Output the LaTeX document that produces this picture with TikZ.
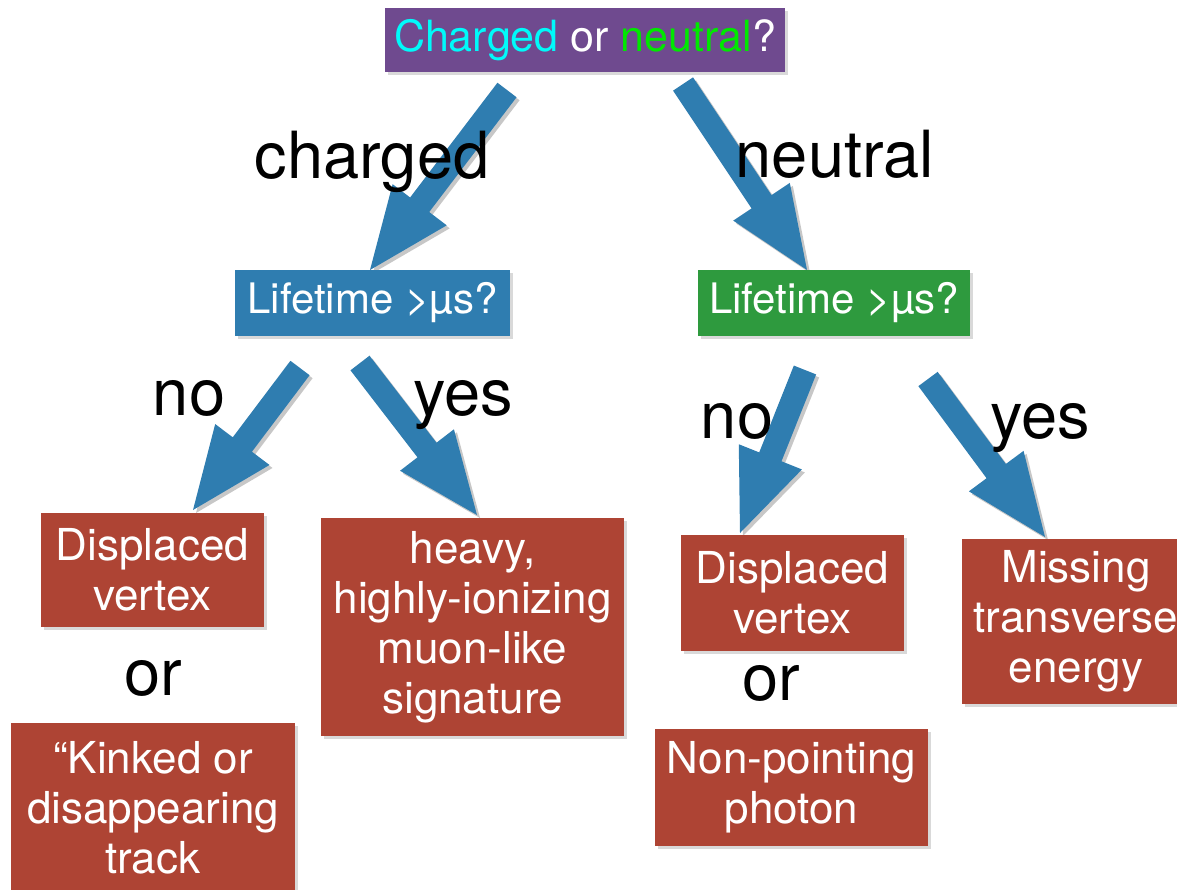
\documentclass[tikz,border=0pt]{standalone}
\usepackage{fontspec}
\setmainfont{TeX Gyre Heros}
\usetikzlibrary{calc,shadows}

\definecolor{qpurple}{RGB}{111,74,143}
\definecolor{qblue}{RGB}{47,125,176}
\definecolor{qgreen}{RGB}{46,154,62}
\definecolor{qred}{RGB}{174,68,52}
\definecolor{chargedcyan}{RGB}{0,250,250}
\definecolor{neutralgreen}{RGB}{0,232,0}

% block arrow from tail #1 to tip #2 (shaft 24pt, head 68pt wide, 82pt long)
\newcommand\blockarrowpath[2]{%
  ($(#1)!12pt!90:(#2)$) -- ($($(#2)!82pt!(#1)$)!12pt!-90:(#1)$)
  -- ($($(#2)!82pt!(#1)$)!34pt!-90:(#1)$) -- (#2)
  -- ($($(#2)!82pt!(#1)$)!34pt!90:(#1)$)
  -- ($($(#2)!82pt!(#1)$)!12pt!90:(#1)$) -- ($(#1)!12pt!-90:(#2)$) -- cycle}

\newcommand\blockarrow[2]{%
  \fill[arrowshadow] \blockarrowpath{#1}{#2};
  \fill[qblue] \blockarrowpath{#1}{#2};}

\begin{document}
\begin{tikzpicture}[x=1pt,y=-1pt,
  arrowshadow/.style={black,opacity=0.22,transform canvas={shift={(3pt,-3pt)}}},
  qbox/.style={rectangle,inner sep=0pt,align=center,text=white,
    font=\fontsize{44}{50}\selectfont,
    drop shadow={shadow xshift=3pt,shadow yshift=-3pt,opacity=0.3}},
  branch/.style={text=black,font=\fontsize{65}{65}\selectfont,anchor=base,inner sep=0pt}]

\useasboundingbox (0,0) rectangle (1177,889);
\clip (0,0) rectangle (1177,889);

% arrow end points
\coordinate (cT) at (507,90);   \coordinate (cP) at (370,270);
\coordinate (nT) at (683,84);   \coordinate (nP) at (807,270);
\coordinate (lnT) at (300,368); \coordinate (lnP) at (193,510);
\coordinate (lyT) at (360,363); \coordinate (lyP) at (477,515);
\coordinate (rnT) at (805,370); \coordinate (rnP) at (740,533);
\coordinate (ryT) at (928,379); \coordinate (ryP) at (1045,537);

% arrows
\blockarrow{cT}{cP}
\blockarrow{nT}{nP}
\blockarrow{lnT}{lnP}
\blockarrow{lyT}{lyP}
\blockarrow{rnT}{rnP}
\blockarrow{ryT}{ryP}

% question boxes
\node[qbox,fill=qpurple,minimum width=400pt,minimum height=64pt,
  font=\fontsize{43}{48}\selectfont] (top) at (585,40)
  {{\color{chargedcyan}Charged} or {\color{neutralgreen}neutral}?};
\node[qbox,fill=qblue,minimum width=275pt,minimum height=66pt,
  font=\fontsize{42}{48}\selectfont] (lifeC) at (372.5,303)
  {Lifetime >µs?};
\node[qbox,fill=qgreen,minimum width=272pt,minimum height=66pt,
  font=\fontsize{42}{48}\selectfont] (lifeN) at (834,303)
  {Lifetime >µs?};

% signature boxes
\node[qbox,fill=qred,minimum width=223pt,minimum height=114pt] (dvC) at (152.5,570)
  {Displaced\\vertex};
\node[qbox,fill=qred,minimum width=303pt,minimum height=218pt] (heavy) at (472.5,627)
  {heavy,\\highly-ionizing\\muon-like\\signature};
\node[qbox,fill=qred,minimum width=284pt,minimum height=170pt] (kink) at (153,808)
  {“Kinked or\\disappearing\\track};
\node[qbox,fill=qred,minimum width=223pt,minimum height=116pt] (dvN) at (792.5,593)
  {Displaced\\vertex};
\node[qbox,fill=qred,minimum width=273pt,minimum height=117pt] (photon) at (791.5,787.5)
  {Non-pointing\\photon};
\node[qbox,fill=qred,minimum width=228pt,minimum height=165pt] (met) at (1076,621.5)
  {Missing\\transverse\\energy};

% branch labels
\node[branch] (lblC) at (372,178) {charged};
\node[branch] (lblN) at (835,177) {neutral};
\node[branch] (noC) at (189,415) {no};
\node[branch] (yesC) at (463,415) {yes};
\node[branch] (noN) at (737,438) {no};
\node[branch] (yesN) at (1040,438) {yes};
\node[branch] (orC) at (153,695) {or};
\node[branch] (orN) at (771,700) {or};
\end{tikzpicture}
\end{document}
